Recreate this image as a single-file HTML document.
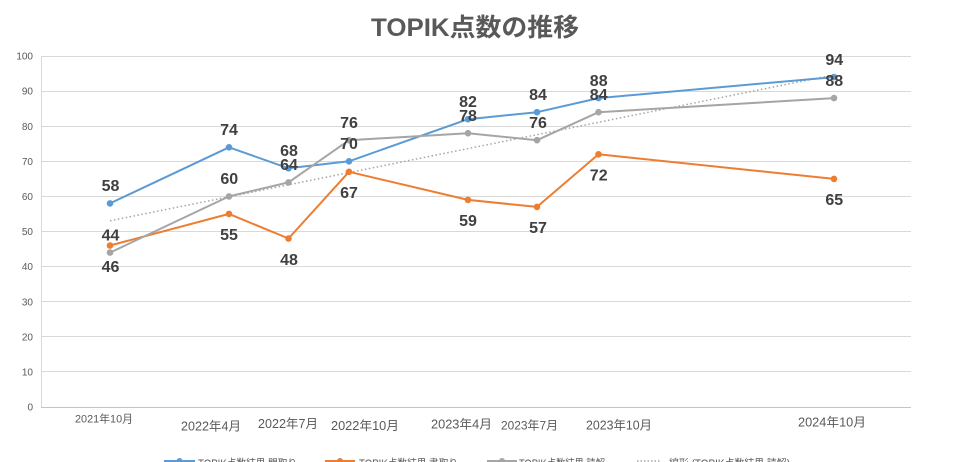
<!DOCTYPE html>
<html><head><meta charset="utf-8"><style>
html,body{margin:0;padding:0;background:#fff;}
svg{display:block;}
text{font-family:"Liberation Sans","Noto Sans CJK JP",sans-serif;}
</style></head><body>
<svg width="953" height="462" viewBox="0 0 953 462" xmlns="http://www.w3.org/2000/svg">
<rect width="953" height="462" fill="#fff"/>
<text x="371" y="36" font-size="25" font-weight="bold" fill="#595959" textLength="208" lengthAdjust="spacingAndGlyphs">TOPIK点数の推移</text>
<g stroke="#d9d9d9" stroke-width="1">
<line x1="41" y1="56.5" x2="911" y2="56.5"/>
<line x1="41" y1="91.5" x2="911" y2="91.5"/>
<line x1="41" y1="126.5" x2="911" y2="126.5"/>
<line x1="41" y1="161.5" x2="911" y2="161.5"/>
<line x1="41" y1="196.5" x2="911" y2="196.5"/>
<line x1="41" y1="231.5" x2="911" y2="231.5"/>
<line x1="41" y1="266.5" x2="911" y2="266.5"/>
<line x1="41" y1="301.5" x2="911" y2="301.5"/>
<line x1="41" y1="336.5" x2="911" y2="336.5"/>
<line x1="41" y1="371.5" x2="911" y2="371.5"/>
<line x1="41.5" y1="56" x2="41.5" y2="407"/>
</g>
<line x1="41" y1="407.5" x2="911" y2="407.5" stroke="#c4c4c4" stroke-width="1"/>
<g font-size="10" fill="#595959" text-anchor="end">
<text x="33" y="59.6">100</text>
<text x="33" y="94.7">90</text>
<text x="33" y="129.8">80</text>
<text x="33" y="164.9">70</text>
<text x="33" y="200">60</text>
<text x="33" y="235.1">50</text>
<text x="33" y="270.2">40</text>
<text x="33" y="305.3">30</text>
<text x="33" y="340.4">20</text>
<text x="33" y="375.5">10</text>
<text x="33" y="410.6">0</text>
</g>
<g fill="#595959">
<text x="75" y="422.5" font-size="11" textLength="58" lengthAdjust="spacingAndGlyphs">2021年10月</text>
<text x="181" y="430.5" font-size="12.5" textLength="60" lengthAdjust="spacingAndGlyphs">2022年4月</text>
<text x="258" y="428" font-size="12.5" textLength="60" lengthAdjust="spacingAndGlyphs">2022年7月</text>
<text x="331" y="430" font-size="12.5" textLength="68" lengthAdjust="spacingAndGlyphs">2022年10月</text>
<text x="431" y="428.5" font-size="12.5" textLength="61" lengthAdjust="spacingAndGlyphs">2023年4月</text>
<text x="501" y="429.5" font-size="12" textLength="57" lengthAdjust="spacingAndGlyphs">2023年7月</text>
<text x="586" y="429.5" font-size="12.5" textLength="66" lengthAdjust="spacingAndGlyphs">2023年10月</text>
<text x="798" y="426.5" font-size="12.5" textLength="68" lengthAdjust="spacingAndGlyphs">2024年10月</text>
</g>
<line x1="110" y1="220.8" x2="834" y2="74.8" stroke="#a5a5a5" stroke-width="1.5" stroke-dasharray="1.5 2.5"/>
<polyline fill="none" stroke="#5b9bd5" stroke-width="2" stroke-linejoin="round" points="110,203.4 229,147.3 288.5,168.3 349,161.3 468,119.2 537,112.2 598.5,98.1 834,77.1"/>
<polyline fill="none" stroke="#ed7d31" stroke-width="2" stroke-linejoin="round" points="110,245.5 229,213.9 288.5,238.5 349,171.8 468,199.9 537,206.9 598.5,154.3 834,178.9"/>
<polyline fill="none" stroke="#a5a5a5" stroke-width="2" stroke-linejoin="round" points="110,252.6 229,196.4 288.5,182.4 349,140.2 468,133.2 537,140.2 598.5,112.2 834,98.1"/>
<g fill="#5b9bd5">
<circle cx="110" cy="203.4" r="3.3"/><circle cx="229" cy="147.3" r="3.3"/><circle cx="288.5" cy="168.3" r="3.3"/><circle cx="349" cy="161.3" r="3.3"/><circle cx="468" cy="119.2" r="3.3"/><circle cx="537" cy="112.2" r="3.3"/><circle cx="598.5" cy="98.1" r="3.3"/><circle cx="834" cy="77.1" r="3.3"/>
</g>
<g fill="#ed7d31">
<circle cx="110" cy="245.5" r="3.3"/><circle cx="229" cy="213.9" r="3.3"/><circle cx="288.5" cy="238.5" r="3.3"/><circle cx="349" cy="171.8" r="3.3"/><circle cx="468" cy="199.9" r="3.3"/><circle cx="537" cy="206.9" r="3.3"/><circle cx="598.5" cy="154.3" r="3.3"/><circle cx="834" cy="178.9" r="3.3"/>
</g>
<g fill="#a5a5a5">
<circle cx="110" cy="252.6" r="3.3"/><circle cx="229" cy="196.4" r="3.3"/><circle cx="288.5" cy="182.4" r="3.3"/><circle cx="349" cy="140.2" r="3.3"/><circle cx="468" cy="133.2" r="3.3"/><circle cx="537" cy="140.2" r="3.3"/><circle cx="598.5" cy="112.2" r="3.3"/><circle cx="834" cy="98.1" r="3.3"/>
</g>
<g font-size="16" font-weight="bold" fill="#404040" text-anchor="middle">
<text x="110.5" y="191.2">58</text><text x="229" y="135.1">74</text><text x="289" y="156.1">68</text><text x="349" y="149.1">70</text><text x="468" y="107">82</text><text x="538" y="100">84</text><text x="598.7" y="85.9">88</text><text x="834.3" y="64.9">94</text>
<text x="110.5" y="240.4">44</text><text x="229.3" y="184.2">60</text><text x="289" y="170.2">64</text><text x="349" y="128">76</text><text x="468" y="121">78</text><text x="538" y="128">76</text><text x="598.7" y="100">84</text><text x="834.3" y="85.9">88</text>
<text x="110.5" y="271.8">46</text><text x="229" y="240.2">55</text><text x="289" y="264.8">48</text><text x="349" y="198.1">67</text><text x="468" y="226.2">59</text><text x="538" y="233.2">57</text><text x="598.7" y="180.6">72</text><text x="834.3" y="205.2">65</text>
</g>
<line x1="164" y1="461" x2="195" y2="461" stroke="#5b9bd5" stroke-width="2"/>
<circle cx="179.5" cy="461" r="3" fill="#5b9bd5"/>
<line x1="325" y1="461" x2="355" y2="461" stroke="#ed7d31" stroke-width="2"/>
<circle cx="340" cy="461" r="3" fill="#ed7d31"/>
<line x1="487" y1="461" x2="517" y2="461" stroke="#a5a5a5" stroke-width="2"/>
<circle cx="502" cy="461" r="3" fill="#a5a5a5"/>
<line x1="637" y1="461" x2="660" y2="461" stroke="#a5a5a5" stroke-width="1.5" stroke-dasharray="1.5 2"/>
<g font-size="11" fill="#595959">
<text x="198" y="467" textLength="99" lengthAdjust="spacingAndGlyphs">TOPIK点数結果 聞取り</text>
<text x="359" y="467" textLength="99" lengthAdjust="spacingAndGlyphs">TOPIK点数結果 書取り</text>
<text x="519" y="467" textLength="86" lengthAdjust="spacingAndGlyphs">TOPIK点数結果 読解</text>
<text x="669" y="467" textLength="121" lengthAdjust="spacingAndGlyphs">線形 (TOPIK点数結果 読解)</text>
</g>
</svg>
</body></html>
